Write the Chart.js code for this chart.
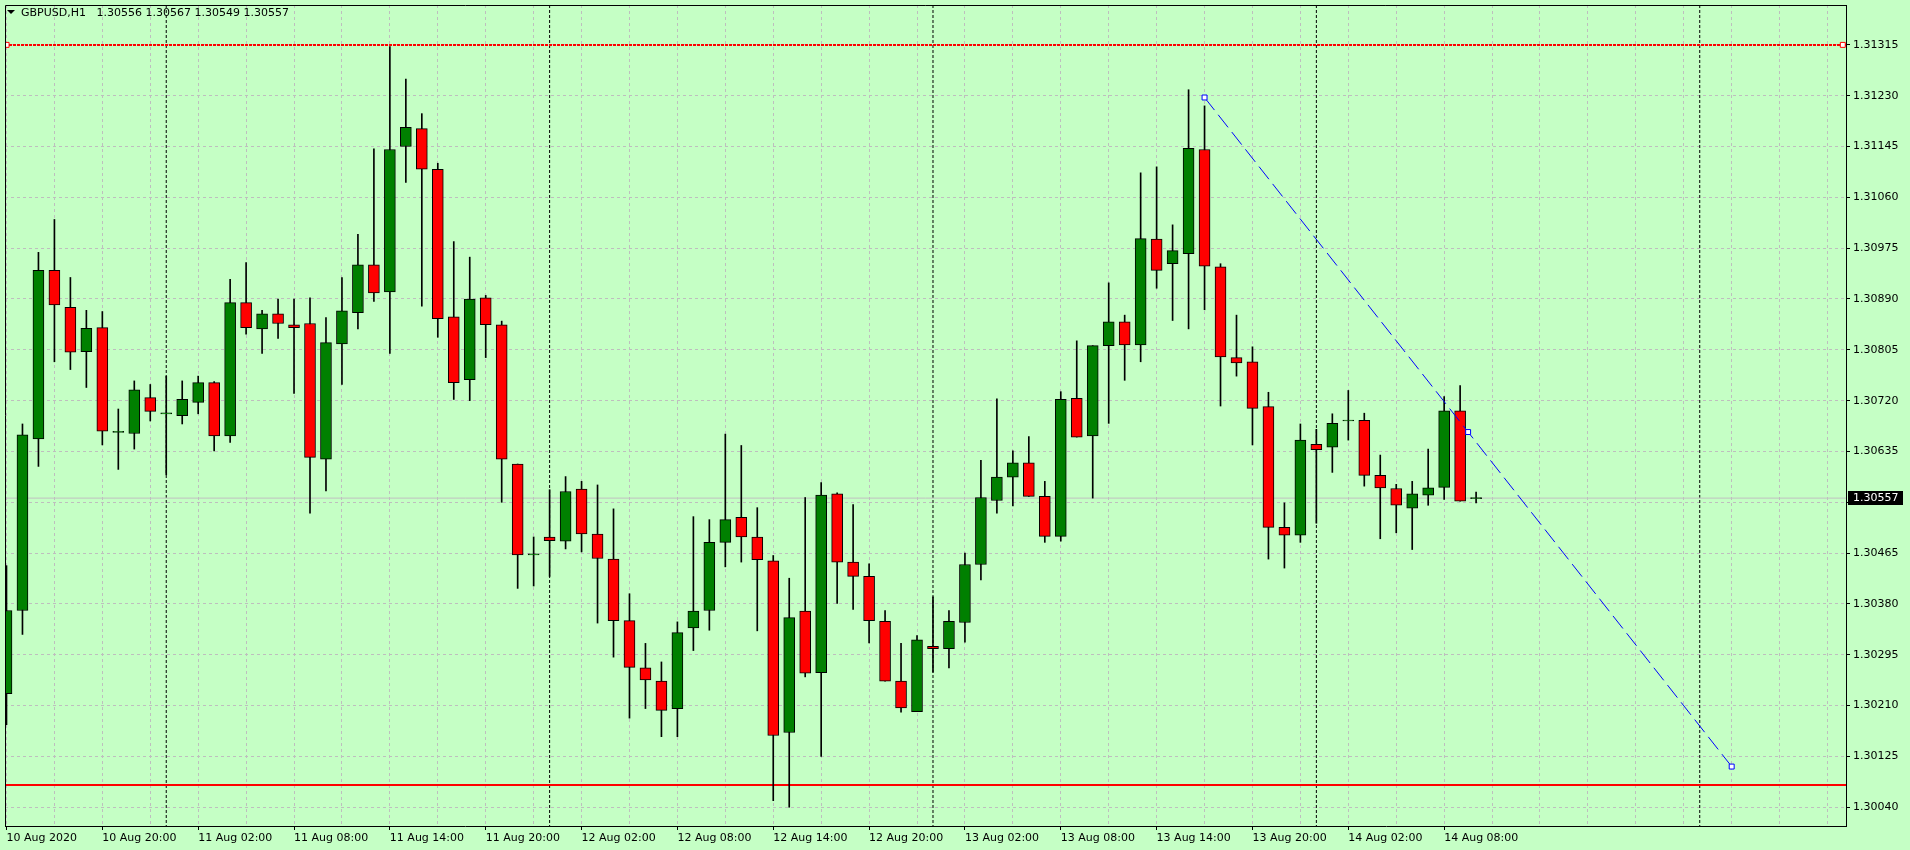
<!DOCTYPE html>
<html>
<head>
<meta charset="utf-8">
<script src="https://cdn.jsdelivr.net/npm/chart.js@4.4.1/dist/chart.umd.min.js"></script>
<style>
  html, body { margin: 0; padding: 0; background: #C5FFC5; }
  #wrap { position: relative; width: 1910px; height: 850px; }
  #c { display: block; }
  #tri { position: absolute; left: 7px; top: 10px; width: 0; height: 0;
         border-left: 4px solid transparent; border-right: 4px solid transparent; border-top: 4px solid #000; }
  #title { position: absolute; left: 21px; top: 6px; font: 11px "DejaVu Sans"; line-height: 13px;
           white-space: pre; color: #000; }
</style>
</head>
<body>
<div id="wrap">
  <canvas id="c" width="1910" height="850"></canvas>
  <div id="tri"></div>
  <div id="title"></div>
</div>
<script>
// ---------------- DATA ----------------
const symbol = 'GBPUSD';
const timeframe = 'H1';

// hourly bars, first bar = 10 Aug 2020 14:00
const opens = [
1.30230,1.30369,1.30656,1.30938,1.30876,1.30802,1.30842,1.30667,1.30665,1.30725,
1.30698,1.30695,1.30717,1.30750,1.30661,1.30884,1.30840,1.30865,1.30847,1.30849,
1.30622,1.30815,1.30867,1.30947,1.30902,1.31145,1.31175,1.31107,1.30860,1.30755,
1.30892,1.30847,1.30614,1.30462,1.30492,1.30485,1.30572,1.30497,1.30455,1.30352,
1.30273,1.30251,1.30205,1.30340,1.30369,1.30483,1.30525,1.30492,1.30452,1.30165,
1.30368,1.30265,1.30564,1.30450,1.30426,1.30351,1.30251,1.30200,1.30309,1.30305,
1.30349,1.30446,1.30553,1.30592,1.30616,1.30560,1.30493,1.30724,1.30661,1.30812,
1.30852,1.30813,1.30990,1.30949,1.30966,1.31140,1.30944,1.30792,1.30785,1.30710,
1.30508,1.30495,1.30647,1.30642,1.30686,1.30687,1.30595,1.30573,1.30540,1.30562,
1.30575,1.30703,1.30556];
const highs = [
1.30444,1.30681,1.30968,1.31023,1.30926,1.30871,1.30869,1.30706,1.30753,1.30747,
1.30761,1.30753,1.30761,1.30752,1.30923,1.30951,1.30871,1.30890,1.30890,1.30892,
1.30859,1.30926,1.30998,1.31141,1.31312,1.31258,1.31200,1.31117,1.30986,1.30960,
1.30896,1.30853,1.30614,1.30492,1.30571,1.30593,1.30585,1.30579,1.30539,1.30397,
1.30314,1.30283,1.30350,1.30526,1.30521,1.30664,1.30645,1.30541,1.30461,1.30423,
1.30558,1.30583,1.30566,1.30546,1.30447,1.30369,1.30314,1.30327,1.30392,1.30369,
1.30465,1.30620,1.30723,1.30636,1.30660,1.30585,1.30735,1.30820,1.30812,1.30917,
1.30863,1.31101,1.31111,1.31014,1.31240,1.31213,1.30949,1.30863,1.30810,1.30734,
1.30549,1.30681,1.30672,1.30698,1.30737,1.30699,1.30629,1.30580,1.30585,1.30639,
1.30727,1.30745,1.30567];
const lows = [
1.30178,1.30329,1.30610,1.30785,1.30772,1.30742,1.30646,1.30605,1.30639,1.30686,
1.30596,1.30681,1.30698,1.30636,1.30650,1.30831,1.30799,1.30824,1.30732,1.30532,
1.30569,1.30747,1.30840,1.30886,1.30799,1.31085,1.30878,1.30826,1.30722,1.30720,
1.30792,1.30550,1.30406,1.30410,1.30426,1.30472,1.30467,1.30348,1.30291,1.30189,
1.30205,1.30158,1.30158,1.30302,1.30336,1.30442,1.30450,1.30335,1.30051,1.30040,
1.30258,1.30125,1.30381,1.30371,1.30315,1.30251,1.30199,1.30200,1.30266,1.30273,
1.30316,1.30420,1.30532,1.30544,1.30560,1.30483,1.30485,1.30659,1.30557,1.30682,
1.30754,1.30785,1.30908,1.30854,1.30840,1.30872,1.30711,1.30761,1.30646,1.30455,
1.30440,1.30483,1.30515,1.30600,1.30654,1.30577,1.30489,1.30499,1.30471,1.30545,
1.30555,1.30552,1.30549];
const closes = [
1.30369,1.30663,1.30938,1.30880,1.30801,1.30841,1.30669,1.30667,1.30738,1.30702,
1.30698,1.30722,1.30750,1.30661,1.30884,1.30842,1.30865,1.30849,1.30842,1.30625,
1.30817,1.30870,1.30947,1.30900,1.31140,1.31177,1.31107,1.30857,1.30750,1.30890,
1.30847,1.30622,1.30462,1.30462,1.30486,1.30568,1.30497,1.30456,1.30352,1.30274,
1.30253,1.30202,1.30332,1.30368,1.30483,1.30521,1.30492,1.30454,1.30160,1.30357,
1.30264,1.30562,1.30450,1.30426,1.30352,1.30251,1.30206,1.30320,1.30305,1.30351,
1.30446,1.30558,1.30592,1.30616,1.30560,1.30493,1.30722,1.30659,1.30812,1.30852,
1.30813,1.30991,1.30938,1.30971,1.31142,1.30945,1.30793,1.30783,1.30707,1.30508,
1.30495,1.30654,1.30638,1.30682,1.30686,1.30595,1.30574,1.30545,1.30564,1.30574,
1.30703,1.30552,1.30557];

// time-axis labels, one every 6 bars starting at bar 0
const timeTickLabels = ['10 Aug 2020','10 Aug 20:00','11 Aug 02:00','11 Aug 08:00','11 Aug 14:00',
  '11 Aug 20:00','12 Aug 02:00','12 Aug 08:00','12 Aug 14:00','12 Aug 20:00','13 Aug 02:00',
  '13 Aug 08:00','13 Aug 14:00','13 Aug 20:00','14 Aug 02:00','14 Aug 08:00'];
const priceTicks = [1.31315,1.31230,1.31145,1.31060,1.30975,1.30890,1.30805,1.30720,
  1.30635,1.30550,1.30465,1.30380,1.30295,1.30210,1.30125,1.30040];

const resistanceLevel = 1.31315;      // dashed red horizontal line
const supportLevel = 1.30077;         // solid red horizontal line
const trendBars = [75, 108];          // blue trend line anchors (bar index)
const trendPrices = [1.31227, 1.30108];
const daySeparatorBars = [10, 34, 58, 82, 106];   // midnight bars
const bidPrice = closes[closes.length - 1];

// ---------------- VIEW ----------------
const X_MIN = -0.09375, X_MAX = 115.15625;
const Y_MIN = 1.300086, Y_MAX = 1.313817;
const FONT = '"DejaVu Sans"';
const GRID = '#BEBEBE';

document.getElementById('title').textContent =
  symbol + ',' + timeframe + '   ' +
  [opens, highs, lows, closes].map(a => a[a.length - 1].toFixed(5)).join(' ');

const idx = opens.map((_, i) => i);
const bodyData = idx.map(i => ({ x: i, y: [opens[i], closes[i]] }));
const wickData = idx.map(i => ({ x: i, y: [lows[i], highs[i]] }));
const bodyColors = idx.map(i => closes[i] >= opens[i] ? '#008000' : '#FF0000');

const sepData = daySeparatorBars.flatMap(b => [{ x: b, y: Y_MAX }, { x: b, y: Y_MIN }, { x: b, y: null }]);
const fullLine = v => [{ x: X_MIN, y: v }, { x: X_MAX, y: v }];
const trendData = trendBars.map((b, k) => ({ x: b, y: trendPrices[k] }));
const trendMarkers = [trendData[0],
  { x: (trendBars[0] + trendBars[1]) / 2, y: (trendPrices[0] + trendPrices[1]) / 2 },
  trendData[1]];
const resMarkers = [{ x: X_MIN + 0.1, y: resistanceLevel }, { x: X_MAX - 0.2, y: resistanceLevel }];

const isLabelTick = v => Math.abs(v % 6) < 1e-9 && v / 6 < timeTickLabels.length;
const gridBars = [];
for (let b = 0; b <= X_MAX; b += 3) gridBars.push(b);

const framePlugin = {
  id: 'frame',
  afterDatasetsDraw(chart) {
    const { ctx, chartArea: a } = chart;
    ctx.save();
    ctx.strokeStyle = '#000';
    ctx.lineWidth = 1;
    ctx.beginPath();
    ctx.moveTo(a.left + 0.5, a.bottom);
    ctx.lineTo(a.left + 0.5, a.top + 0.5);
    ctx.lineTo(a.right, a.top + 0.5);
    ctx.stroke();
    ctx.restore();
  },
  afterDraw(chart) {
    const { ctx } = chart;
    const ys = chart.scales.y;
    const y = ys.getPixelForValue(bidPrice);
    ctx.save();
    ctx.fillStyle = '#000';
    ctx.fillRect(ys.left + 2, Math.round(y) - 7, 55, 14);
    ctx.fillStyle = '#fff';
    ctx.font = '11px ' + FONT;
    ctx.textBaseline = 'middle';
    ctx.textAlign = 'left';
    ctx.fillText(bidPrice.toFixed(5), ys.left + 7, y);
    ctx.restore();
  }
};

new Chart(document.getElementById('c'), {
  type: 'bar',
  data: {
    datasets: [
      { type: 'line', data: trendMarkers, showLine: false, pointStyle: 'rect', pointRadius: 3.5,
        pointBorderColor: '#0000FF', pointBackgroundColor: '#FFFFFF', pointBorderWidth: 1, order: -2 },
      { type: 'line', data: resMarkers, showLine: false, pointStyle: 'rect', pointRadius: 3.5,
        pointBorderColor: '#FF0000', pointBackgroundColor: '#FFFFFF', pointBorderWidth: 1, order: -1 },
      { type: 'line', data: trendData, borderColor: '#0000FF', borderWidth: 1, borderDash: [16, 6],
        pointRadius: 0, fill: false, tension: 0, order: 0 },
      { type: 'bar', data: bodyData, backgroundColor: bodyColors, borderColor: '#000', borderWidth: 1,
        borderSkipped: false, barThickness: 11, minBarLength: 1, grouped: false, order: 1 },
      { type: 'bar', data: wickData, backgroundColor: '#000', borderWidth: 0,
        barThickness: 1, grouped: false, order: 2 },
      { type: 'line', data: fullLine(resistanceLevel), borderColor: '#FF0000', borderWidth: 2,
        borderDash: [3, 1], pointRadius: 0, fill: false, order: 3 },
      { type: 'line', data: fullLine(supportLevel), borderColor: '#FF0000', borderWidth: 2,
        pointRadius: 0, fill: false, order: 3 },
      { type: 'line', data: fullLine(bidPrice), borderColor: '#C0C0C0', borderWidth: 1,
        pointRadius: 0, fill: false, order: 4 },
      { type: 'line', data: sepData, borderColor: '#000', borderWidth: 1, borderDash: [3, 2],
        pointRadius: 0, fill: false, spanGaps: false, order: 5 }
    ]
  },
  options: {
    responsive: false,
    devicePixelRatio: 1,
    animation: false,
    events: [],
    layout: { padding: { left: 2, top: 2, right: 0, bottom: 0 } },
    plugins: { legend: { display: false }, tooltip: { enabled: false }, title: { display: false } },
    scales: {
      x: {
        type: 'linear', position: 'bottom', min: X_MIN, max: X_MAX, offset: false,
        afterBuildTicks: s => { s.ticks = gridBars.map(v => ({ value: v })); },
        afterFit: s => { s.height = 24; s.paddingLeft = 0; s.paddingRight = 0; },
        ticks: {
          autoSkip: false, maxRotation: 0, minRotation: 0, align: 'start', padding: 2,
          color: '#000', font: { family: FONT, size: 11 },
          callback: v => isLabelTick(v) ? timeTickLabels[Math.round(v / 6)] : ''
        },
        grid: {
          offset: false, color: GRID, lineWidth: 1, drawTicks: true, tickLength: 4,
          tickColor: ctx => (ctx.tick && isLabelTick(ctx.tick.value)) ? '#000' : 'rgba(0,0,0,0)'
        },
        border: { display: true, color: '#000', width: 1, dash: [3, 3] }
      },
      y: {
        type: 'linear', position: 'right', min: Y_MIN, max: Y_MAX, beginAtZero: false,
        afterBuildTicks: s => { s.ticks = priceTicks.map(v => ({ value: v })); },
        afterFit: s => { s.width = 64; s.paddingTop = 0; s.paddingBottom = 0; },
        ticks: { padding: 3, color: '#000', font: { family: FONT, size: 11 },
                 callback: v => Number(v).toFixed(5) },
        grid: { color: GRID, lineWidth: 1, tickLength: 4, tickColor: '#000' },
        border: { display: true, color: '#000', width: 1, dash: [3, 3] }
      }
    }
  },
  plugins: [framePlugin]
});
</script>
</body>
</html>
